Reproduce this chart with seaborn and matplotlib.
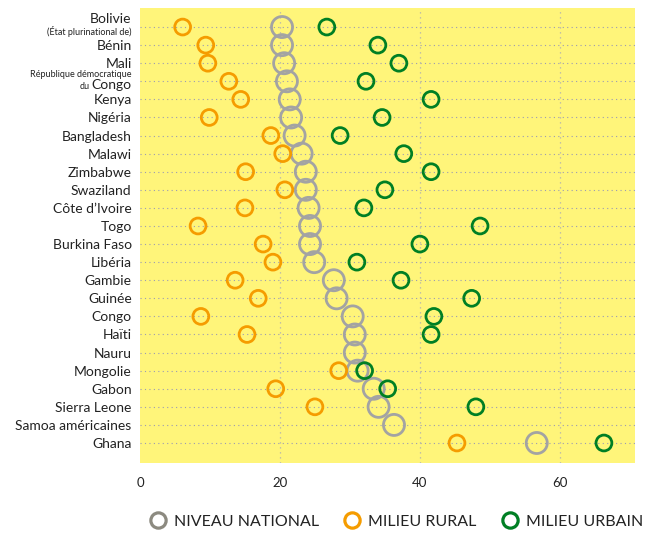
import matplotlib
matplotlib.use('Agg')
import matplotlib.pyplot as plt
from matplotlib.lines import Line2D
import matplotlib.transforms as mtransforms
import seaborn as sns
import numpy as np

# Data
pays = ['Bolivie', 'Bénin', 'Mali', 'République démocratique du Congo', 'Kenya',
        'Nigéria', 'Bangladesh', 'Malawi', 'Zimbabwe', 'Swaziland', 'Côte d’Ivoire',
        'Togo', 'Burkina Faso', 'Libéria', 'Gambie', 'Guinée', 'Congo', 'Haïti',
        'Nauru', 'Mongolie', 'Gabon', 'Sierra Leone', 'Samoa américaines', 'Ghana']
national = [20.3, 20.3, 20.6, 21.0, 21.4, 21.6, 22.1, 23.1, 23.7, 23.7, 24.1,
            24.3, 24.3, 24.9, 27.7, 28.1, 30.4, 30.7, 30.7, 31.1, 33.4, 34.1, 36.3, 56.7]
rural = [6.1, 9.4, 9.7, 12.7, 14.4, 9.9, 18.7, 20.4, 15.1, 20.7, 15.0,
         8.3, 17.6, 19.0, 13.6, 16.9, 8.7, 15.3, np.nan, 28.4, 19.4, 25.0, np.nan, 45.3]
urbain = [26.7, 34.0, 37.0, 32.3, 41.6, 34.6, 28.6, 37.7, 41.6, 35.0, 32.0,
          48.6, 40.0, 31.0, 37.3, 47.4, 42.0, 41.6, np.nan, 32.1, 35.4, 48.0, np.nan, 66.3]

c_nat = '#a3a3a3'
c_rur = '#f59c00'
c_urb = '#007f24'
yellow = '#fff57a'
txt = '#222222'

fig = plt.figure(figsize=(6.51, 5.37), dpi=100)
ax = fig.add_axes([0.215, 0.138, 0.76, 0.847])
ax.set_facecolor(yellow)

# row grid lines
for i in range(len(pays)):
    ax.axhline(i, color='#9b9bb3', lw=0.8, ls=(0, (1, 3)), zorder=0)
for v in [20, 40, 60]:
    ax.axvline(v, color='#b0b0b0', lw=0.9, ls=(0, (1, 3)), zorder=0)

sns.scatterplot(x=national, y=pays, ax=ax, s=230, facecolors='none',
                edgecolors=c_nat, linewidth=2.0, zorder=2)
rur_pays = [p for p, r in zip(pays, rural) if not np.isnan(r)]
rur_vals = [r for r in rural if not np.isnan(r)]
urb_pays = [p for p, u in zip(pays, urbain) if not np.isnan(u)]
urb_vals = [u for u in urbain if not np.isnan(u)]
sns.scatterplot(x=rur_vals, y=rur_pays, ax=ax, s=130, facecolors='none',
                edgecolors=c_rur, linewidth=2.0, zorder=3)
sns.scatterplot(x=urb_vals, y=urb_pays, ax=ax, s=130, facecolors='none',
                edgecolors=c_urb, linewidth=2.0, zorder=4)

ax.set_xlim(0, 70.7)
ax.set_ylim(24.1, -1.05)
ax.set_xticks([0, 20, 40, 60])
ax.set_xlabel('')
ax.set_ylabel('')
for s in ax.spines.values():
    s.set_visible(False)
ax.tick_params(axis='both', length=0, labelsize=9.5, labelcolor=txt)
ax.tick_params(axis='x', pad=10)
ax.tick_params(axis='y', pad=6)

labels = list(pays)
labels[0] = ''
labels[3] = ''
ax.set_yticks(range(len(pays)))
ax.set_yticklabels(labels, fontfamily='Lato', fontsize=10)
for t in ax.get_xticklabels():
    t.set_fontfamily('Lato')

# two-line labels
trans = mtransforms.blended_transform_factory(ax.transAxes, ax.transData)
off = mtransforms.ScaledTranslation(-6 / 72, 0, fig.dpi_scale_trans)
ax.text(0, -0.47, 'Bolivie', transform=trans + off, ha='right', va='center',
        fontfamily='Lato', fontsize=10, color=txt)
ax.text(0, 0.27, '(État plurinational de)', transform=trans + off, ha='right',
        va='center', fontfamily='Lato', fontsize=6.5, color=txt)
ax.text(0, 2.6, 'République démocratique', transform=trans + off, ha='right',
        va='center', fontfamily='Lato', fontsize=6.5, color=txt)
ax.text(0, 3.22, 'Congo', transform=trans + off, ha='right', va='center',
        fontfamily='Lato', fontsize=10, color=txt)
off2 = mtransforms.ScaledTranslation(-36 / 72, 0, fig.dpi_scale_trans)
ax.text(0, 3.27, 'du', transform=trans + off2, ha='right', va='center',
        fontfamily='Lato', fontsize=6.5, color=txt)

handles = [Line2D([], [], ls='none', marker='o', ms=11, mfc='none', mec=c, mew=2.3)
           for c in ['#8c8a80', c_rur, c_urb]]
names = ['NIVEAU NATIONAL', 'MILIEU RURAL', 'MILIEU URBAIN']
leg = fig.legend(handles, names, loc='lower center', bbox_to_anchor=(0.608, -0.012),
                 ncol=3, frameon=False, handlelength=1.2, handletextpad=0.4,
                 columnspacing=1.5, prop={'family': 'Lato', 'size': 11.5})
for t in leg.get_texts():
    t.set_color(txt)

fig.savefig('out.png', dpi=100)
